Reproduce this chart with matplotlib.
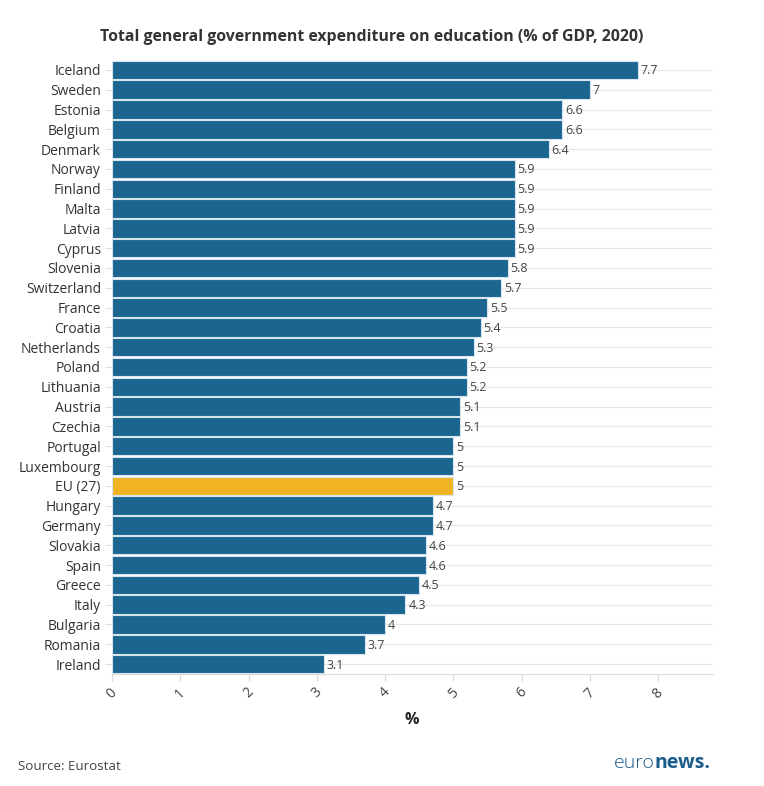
import matplotlib
matplotlib.use("Agg")
import matplotlib.pyplot as plt

countries = ["Iceland", "Sweden", "Estonia", "Belgium", "Denmark", "Norway", "Finland",
             "Malta", "Latvia", "Cyprus", "Slovenia", "Switzerland", "France", "Croatia",
             "Netherlands", "Poland", "Lithuania", "Austria", "Czechia", "Portugal",
             "Luxembourg", "EU (27)", "Hungary", "Germany", "Slovakia", "Spain", "Greece",
             "Italy", "Bulgaria", "Romania", "Ireland"]
values = [7.7, 7, 6.6, 6.6, 6.4, 5.9, 5.9, 5.9, 5.9, 5.9, 5.8, 5.7, 5.5, 5.4, 5.3, 5.2,
          5.2, 5.1, 5.1, 5, 5, 5, 4.7, 4.7, 4.6, 4.6, 4.5, 4.3, 4, 3.7, 3.1]
value_labels = ["7.7", "7", "6.6", "6.6", "6.4", "5.9", "5.9", "5.9", "5.9", "5.9", "5.8",
                "5.7", "5.5", "5.4", "5.3", "5.2", "5.2", "5.1", "5.1", "5", "5", "5",
                "4.7", "4.7", "4.6", "4.6", "4.5", "4.3", "4", "3.7", "3.1"]
x_ticks = [0, 1, 2, 3, 4, 5, 6, 7, 8]

plt.rcParams['font.family'] = ['Open Sans', 'DejaVu Sans']

fig = plt.figure(figsize=(7.64, 7.86), dpi=100)
ax = fig.add_axes([112/764, 1 - 674/786, (713-112)/764, (674-60)/786])

BLUE = "#1b6690"
GOLD = "#f0b323"
colors = [GOLD if c == "EU (27)" else BLUE for c in countries]
ypos = list(range(len(countries)))

for y in ypos:
    ax.axhline(y, color="#e8e8e8", lw=0.9, zorder=0)

ax.barh(ypos, values, height=0.93, color=colors, edgecolor="#d6e4ee", linewidth=0.8, zorder=2)
for y, v, lab in zip(ypos, values, value_labels):
    ax.text(v + 0.04, y + 0.05, lab, va="center", ha="left", fontsize=9, color="#444444", zorder=3)

ax.set_ylim(len(countries) - 0.5, -0.5)
ax.set_xlim(0, 601/68.25)
ax.set_yticks(ypos)
ax.set_yticklabels(countries, fontsize=10, color="#333333")
ax.set_xticks(x_ticks)
ax.set_xticklabels([str(t) for t in x_ticks], rotation=45, fontsize=10, color="#444444",
                   ha="center")
ax.tick_params(axis="y", length=5, color="#e0e0e0", pad=3)
ax.tick_params(axis="x", length=5, color="#d8d8d8", pad=3)
for s in ["top", "right", "left"]:
    ax.spines[s].set_visible(False)
ax.spines["bottom"].set_color("#dddddd")
ax.spines["bottom"].set_linewidth(0.9)

fig.text(372/764, 1 - 37/786, "Total general government expenditure on education (% of GDP, 2020)",
         ha="center", va="center", fontsize=11.4, fontweight="bold", color="#333333")
fig.text(412/764, 1 - 720/786, "%", ha="center", va="center", fontsize=11.5,
         fontweight="bold", color="#222222")
fig.text(18/764, 1 - 766/786, "Source: Eurostat", ha="left", va="center", fontsize=9.6,
         color="#444444")
t1 = fig.text(614/764, 1 - 763/786, "euro", ha="left", va="center", fontsize=14,
              color="#1a5d8c", fontweight="light")
fig.canvas.draw()
bb = t1.get_window_extent()
fig.text(bb.x1/764, 1 - 763/786, "news.", ha="left", va="center", fontsize=14,
         color="#1a5d8c", fontweight="bold")

fig.savefig("out.png", dpi=100)
